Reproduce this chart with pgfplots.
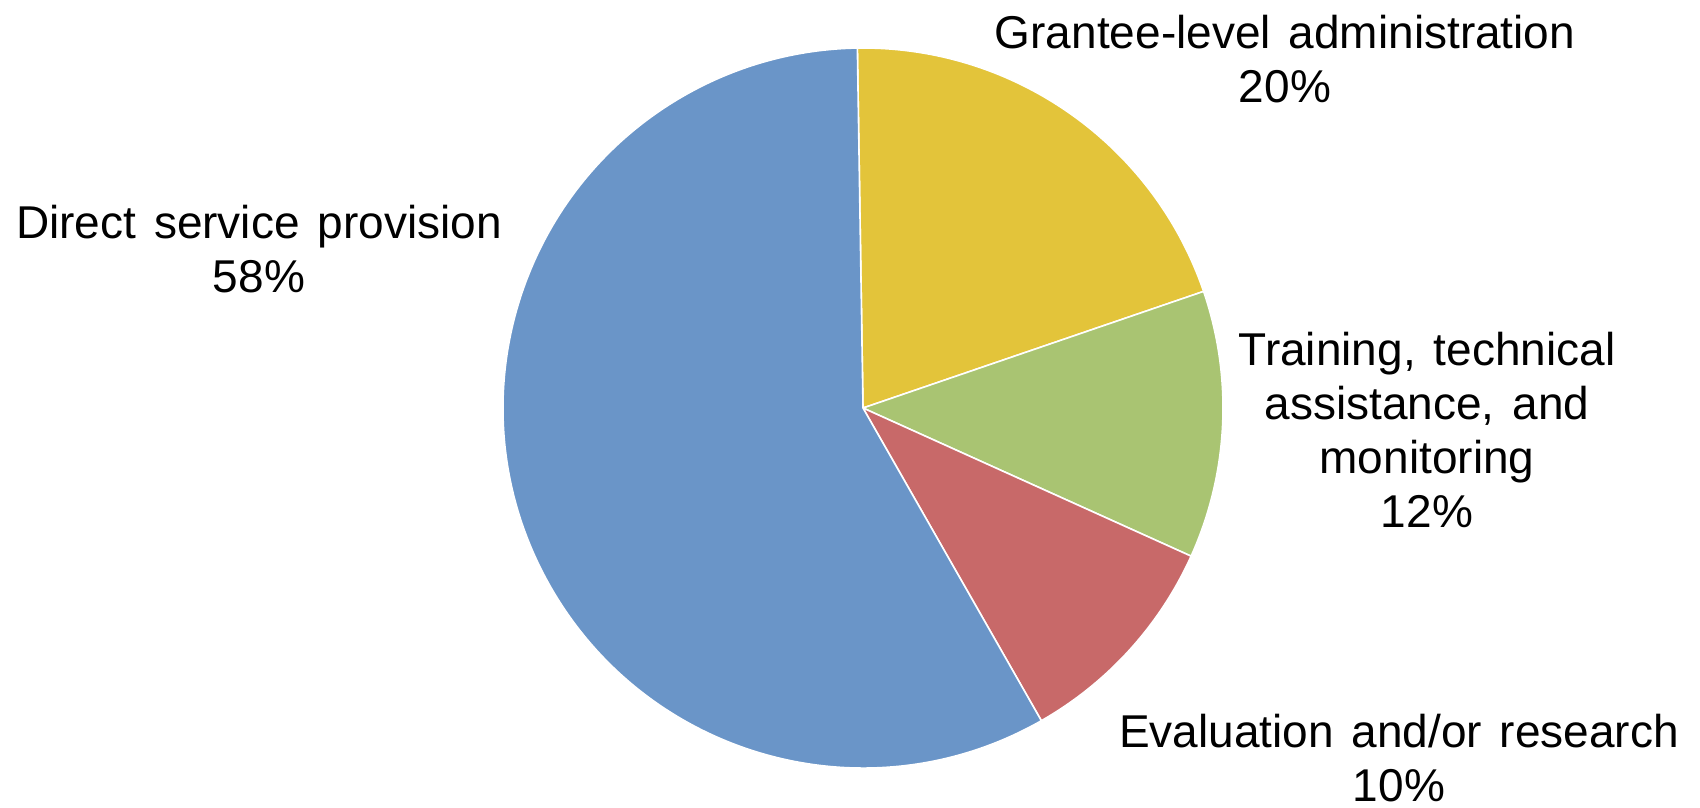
\documentclass[border=0pt]{standalone}
\usepackage{fontspec}
\setmainfont{Liberation Sans}[WordSpace=1.4]
\usepackage{pgfplots}
\pgfplotsset{compat=1.18}
\definecolor{sliceblue}{RGB}{106,149,200}
\definecolor{slicegold}{RGB}{227,196,58}
\definecolor{slicegreen}{RGB}{169,196,114}
\definecolor{slicered}{RGB}{200,105,105}
\begin{document}
\begin{tikzpicture}
\begin{axis}[
  width=425pt, height=201.75pt, scale only axis,
  xmin=0, xmax=1700, ymin=0, ymax=807,
  hide axis, clip=false,
]
\path (rel axis cs:0,0) rectangle (rel axis cs:1,1);
% values (percent): Grantee 20, Training 12, Evaluation 10, Direct 58
\def\sa{90.9}
\fill[slicegold, draw=white, line width=0.4pt] (axis cs:863,399) -- ++(\sa:90pt) arc[start angle=\sa, delta angle=-20*3.6, radius=90pt] -- cycle;
\fill[slicegreen, draw=white, line width=0.4pt] (axis cs:863,399) -- ++(\sa-20*3.6:90pt) arc[start angle=\sa-20*3.6, delta angle=-12*3.6, radius=90pt] -- cycle;
\fill[slicered, draw=white, line width=0.4pt] (axis cs:863,399) -- ++(\sa-32*3.6:90pt) arc[start angle=\sa-32*3.6, delta angle=-10*3.6, radius=90pt] -- cycle;
\fill[sliceblue, draw=white, line width=0.4pt] (axis cs:863,399) -- ++(\sa-42*3.6:90pt) arc[start angle=\sa-42*3.6, delta angle=-58*3.6, radius=90pt] -- cycle;
\tikzset{lbl/.style={align=center, inner sep=0pt, font=\fontsize{11.5}{13.5}\selectfont}}
\node[lbl] at (axis cs:259,558) {Direct service provision\\58\%};
\node[lbl] at (axis cs:1285,747.5) {Grantee-level administration\\20\%};
\node[lbl] at (axis cs:1427,377) {Training, technical\\assistance, and\\monitoring\\12\%};
\node[lbl] at (axis cs:1399,49) {Evaluation and/or research\\10\%};
\end{axis}
\pgfresetboundingbox
\useasboundingbox (current axis.south west) rectangle (current axis.north east);
\end{tikzpicture}
\end{document}
